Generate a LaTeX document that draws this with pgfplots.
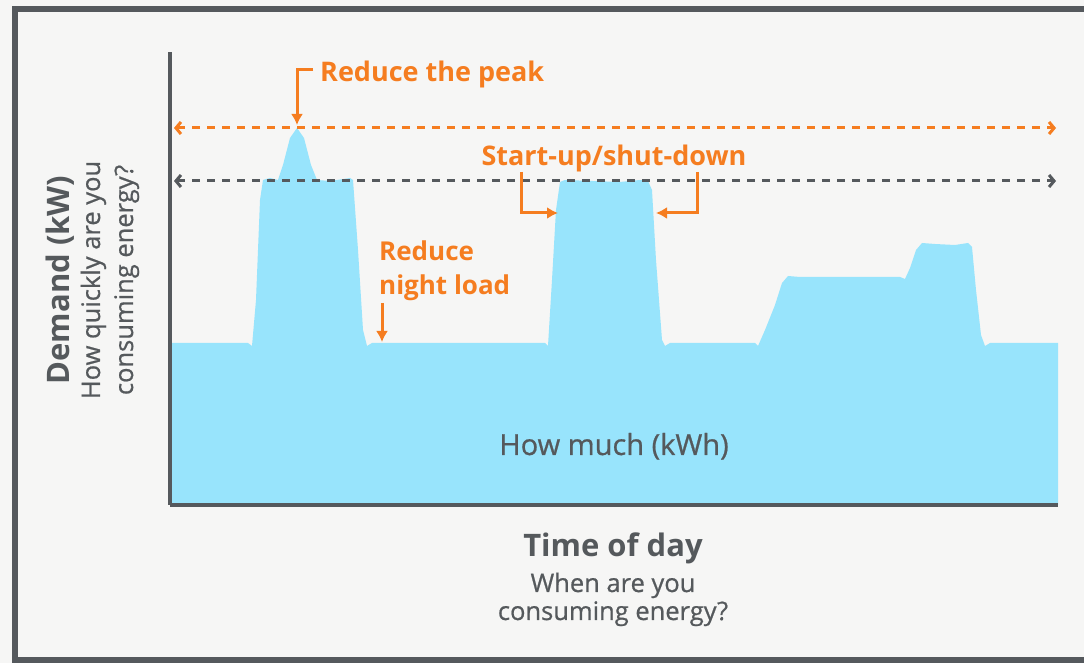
\documentclass[border=0pt]{standalone}
\usepackage{fontspec}
\setmainfont{Open Sans}
\newfontfamily\medfont{Open Sans}[FakeBold=0.7]
\usepackage{pgfplots}
\pgfplotsset{compat=1.18}
\usetikzlibrary{arrows.meta}
\definecolor{bg}{RGB}{246,246,245}
\definecolor{framec}{RGB}{85,89,93}
\definecolor{fillblue}{RGB}{152,228,252}
\definecolor{orng}{RGB}{245,125,32}
\definecolor{txtgray}{RGB}{85,89,92}
\begin{document}
\begin{tikzpicture}
\useasboundingbox (0,0) rectangle (1084pt,663pt);
\fill[bg] (0,0) rectangle (1084pt,663pt);
\draw[framec, line width=6pt] (1095pt,654pt) -- (15pt,654pt) -- (15pt,3pt) -- (1095pt,3pt);
\begin{axis}[
  at={(170pt,158pt)}, anchor=south west,
  scale only axis, width=888pt, height=453pt,
  xmin=170, xmax=1058, ymin=0, ymax=453,
  axis lines=left, axis line style={draw=framec, line width=4pt, -},
  ticks=none, clip=false, axis on top,
]
\addplot[fill=fillblue, draw=none] coordinates {
(170,162) (248,162) (252,159) (256,205) (260,305) (263,325) (270,327) (278,325)
(283,340) (290,367) (297,377) (304,367) (311,340) (317,325) (330,324) (350,327)
(353,325) (358,255) (363,175) (367,159) (372,162) (545,162) (548,159) (552,225)
(556,295) (560,323) (565,325) (620,323) (640,325) (648,324) (652,315) (656,245)
(662,165) (665,159) (670,162) (755,162) (758,159) (765,175) (775,200) (782,222)
(788,229) (800,228) (900,228) (905,226) (910,237) (916,255) (922,262) (935,261)
(955,260) (968,262) (972,258) (976,215) (981,170) (985,159) (990,162) (1058,162)
} \closedcycle;
\addplot[orng, line width=3pt, dash pattern=on 8pt off 7pt,
  {Straight Barb[length=5pt,width=12pt]}-{Straight Barb[length=5pt,width=12pt]}]
  coordinates {(174,377) (1056,377)};
\addplot[framec, line width=3pt, dash pattern=on 8pt off 7pt,
  {Straight Barb[length=5pt,width=12pt]}-{Straight Barb[length=5pt,width=12pt]}]
  coordinates {(174,324) (1056,324)};
% annotations
\draw[orng, line width=3pt, -{Latex[length=11pt,width=12pt]}] (axis cs:313,435) -- (axis cs:297,435) -- (axis cs:297,380);
\draw[orng, line width=3pt, -{Latex[length=11pt,width=12pt]}] (axis cs:521,333) -- (axis cs:521,292) -- (axis cs:558,292);
\draw[orng, line width=3pt, -{Latex[length=11pt,width=12pt]}] (axis cs:697,333) -- (axis cs:697,292) -- (axis cs:656,292);
\draw[orng, line width=3pt, -{Latex[length=11pt,width=12pt]}] (axis cs:382,202) -- (axis cs:382,163);
\node[orng, anchor=base west, inner sep=0pt, font=\fontsize{27}{32}\selectfont\bfseries] at (axis cs:320,423) {Reduce the peak};
\node[orng, anchor=base, inner sep=0pt, font=\fontsize{27}{32}\selectfont\bfseries] at (axis cs:614,339) {Start-up/shut-down};
\node[orng, anchor=base west, inner sep=0pt, font=\fontsize{26}{32}\selectfont\bfseries] at (axis cs:379,244) {Reduce};
\node[orng, anchor=base west, inner sep=0pt, font=\fontsize{26}{32}\selectfont\bfseries] at (axis cs:379,210) {night load};
\node[txtgray, anchor=base, inner sep=0pt, font=\fontsize{29}{34}\selectfont\medfont] at (axis cs:614,50) {How much (kWh)};
\node[txtgray, anchor=base, inner sep=0pt, font=\fontsize{31}{36}\selectfont\bfseries] at (axis cs:613,-52) {Time of day};
\node[txtgray, anchor=base, inner sep=0pt, font=\fontsize{25.5}{30}\selectfont\medfont] at (axis cs:613,-87) {When are you};
\node[txtgray, anchor=base, inner sep=0pt, font=\fontsize{25.5}{30}\selectfont\medfont] at (axis cs:613,-115) {consuming energy?};
\node[txtgray, rotate=90, anchor=base, inner sep=0pt, font=\fontsize{31}{36}\selectfont\bfseries] at (axis cs:70,225) {Demand (kW)};
\node[txtgray, rotate=90, anchor=base, inner sep=0pt, font=\fontsize{25.5}{30}\selectfont\medfont] at (axis cs:100,225) {How quickly are you};
\node[txtgray, rotate=90, anchor=base, inner sep=0pt, font=\fontsize{25.5}{30}\selectfont\medfont] at (axis cs:133,225) {consuming energy?};
\end{axis}
\end{tikzpicture}
\end{document}
